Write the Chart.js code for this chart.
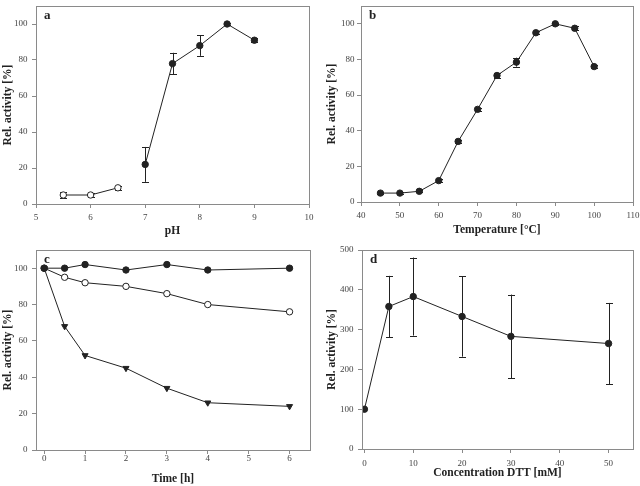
<!DOCTYPE html>
<html>
<head>
<meta charset="utf-8">
<script src="https://cdn.jsdelivr.net/npm/chart.js@4"></script>
<style>
  body { margin: 0; background: #fff; }
  #wrap { position: relative; width: 640px; height: 486px; }
  canvas { position: absolute; }
</style>
</head>
<body>
<div id="wrap">
  <canvas id="pa" width="320" height="243" style="left:0;top:0"></canvas>
  <canvas id="pb" width="320" height="243" style="left:320px;top:0"></canvas>
  <canvas id="pc" width="320" height="243" style="left:0;top:243px"></canvas>
  <canvas id="pd" width="320" height="243" style="left:320px;top:243px"></canvas>
</div>
<script>
'use strict';

// panel a - pH
const phOpenX = [5.5, 6, 6.5];
const phOpenY = [5, 5, 9];
const phOpenErr = [1.5, 1, 1];
const phX = [7, 7.5, 8, 8.5, 9];
const phY = [22, 78, 88, 100, 91];
const phErr = [9.7, 6, 5.7, 0.4, 1];

// panel b - temperature
const tempX = [45, 50, 55, 60, 65, 70, 75, 80, 85, 90, 95, 100];
const tempY = [5, 5, 6, 12, 34, 52, 71, 78.5, 95, 100, 97.5, 76];
const tempErr = [0.5, 0.5, 0.5, 0.8, 1, 0.8, 1.5, 2.5, 0.8, 0.5, 1, 0.8];

// panel c - time
const timeX = [0, 0.5, 1, 2, 3, 4, 6];
const timeFilled = [100, 100, 102, 99, 102, 99, 100];
const timeOpen = [100, 95, 92, 90, 86, 80, 76];
const timeTri = [100, 68, 52, 45, 34, 26, 24];

// panel d - DTT
const dttX = [0, 5, 10, 20, 30, 50];
const dttY = [100, 358, 383, 333, 283, 265];
const dttErr = [0, 77, 98, 101, 105, 102];

// tick labels
const phTicks = [5, 6, 7, 8, 9, 10];
const tempTicks = [40, 50, 60, 70, 80, 90, 100, 110];
const timeTicks = [0, 1, 2, 3, 4, 5, 6];
const dttTicks = [0, 10, 20, 30, 40, 50];
const pctTicks = [0, 20, 40, 60, 80, 100];
const dttPctTicks = [0, 100, 200, 300, 400, 500];

const FONT = "'Liberation Serif', 'DejaVu Serif', serif";
const AXIS = '#8a8a8a';
const INK = '#222';

function pts(xs, ys) {
    return xs.map((x, i) => ({ x: x, y: ys[i] }));
}

const frameAndErrors = {
    id: 'frameAndErrors',
    beforeDatasetsDraw(chart) {
        const ctx = chart.ctx;
        const xs = chart.scales.x, ys = chart.scales.y;
        ctx.save();
        ctx.strokeStyle = INK;
        ctx.lineWidth = 1;
        chart.data.datasets.forEach(ds => {
            if (!ds.errors) return;
            ds.data.forEach((p, i) => {
                const e = ds.errors[i];
                if (!e) return;
                const px = Math.round(xs.getPixelForValue(p.x)) + 0.5;
                const top = ys.getPixelForValue(p.y + e);
                const bot = ys.getPixelForValue(p.y - e);
                ctx.beginPath();
                ctx.moveTo(px, top); ctx.lineTo(px, bot);
                ctx.moveTo(px - 3.5, Math.round(top) + 0.5); ctx.lineTo(px + 3.5, Math.round(top) + 0.5);
                ctx.moveTo(px - 3.5, Math.round(bot) + 0.5); ctx.lineTo(px + 3.5, Math.round(bot) + 0.5);
                ctx.stroke();
            });
        });
        ctx.restore();
    },
    afterDraw(chart, args, opts) {
        const ctx = chart.ctx;
        const a = chart.chartArea;
        ctx.save();
        ctx.strokeStyle = AXIS;
        ctx.lineWidth = 1;
        ctx.strokeRect(Math.round(a.left) + 0.5, Math.round(a.top) + 0.5,
            Math.round(a.right - a.left), Math.round(a.bottom - a.top));
        ctx.fillStyle = INK;
        ctx.font = 'bold 13px ' + FONT;
        ctx.textBaseline = 'middle';
        ctx.fillText(opts.letter, a.left + opts.lx, a.top + opts.ly);
        ctx.restore();
    }
};

function makePanel(id, p) {
    new Chart(document.getElementById(id), {
        type: 'scatter',
        data: { datasets: p.datasets },
        plugins: [frameAndErrors],
        options: {
            responsive: false,
            animation: false,
            layout: { padding: { top: p.top, right: p.right, left: 0, bottom: 0 } },
            plugins: {
                legend: { display: false },
                tooltip: { enabled: false },
                frameAndErrors: { letter: p.letter, lx: 8, ly: 10 }
            },
            scales: {
                x: {
                    type: 'linear',
                    min: p.xMin, max: p.xMax,
                    afterBuildTicks: s => { s.ticks = p.xTicks.map(v => ({ value: v })); },
                    afterFit: s => { s.height = p.bottom; s.paddingLeft = 0; s.paddingRight = 0; },
                    border: { display: false },
                    grid: { drawOnChartArea: false, tickLength: 4, color: AXIS },
                    ticks: { color: '#444', font: { family: FONT, size: 9 }, padding: p.xPad, maxRotation: 0 },
                    title: { display: true, text: p.xTitle, color: INK, font: { family: FONT, size: 11.5, weight: 'bold' }, padding: { top: 0, bottom: p.xTitlePad } }
                },
                y: {
                    type: 'linear',
                    min: p.yMin, max: p.yMax,
                    afterBuildTicks: s => { s.ticks = p.yTicks.map(v => ({ value: v })); },
                    afterFit: s => { s.width = p.left; s.paddingTop = 0; s.paddingBottom = 0; },
                    border: { display: false },
                    grid: { drawOnChartArea: false, tickLength: 4, color: AXIS },
                    ticks: { color: '#444', font: { family: FONT, size: 9 }, padding: p.yPad },
                    title: { display: true, text: 'Rel. activity [%]', color: INK, font: { family: FONT, size: 11.5, weight: 'bold' }, padding: { top: p.yTitlePad, bottom: 0 } }
                }
            }
        }
    });
}

function series(xs, ys, opts) {
    return Object.assign({
        data: pts(xs, ys),
        showLine: true,
        borderColor: INK,
        borderWidth: 1,
        pointRadius: 3.2,
        pointBorderWidth: 1,
        pointBackgroundColor: INK,
        pointBorderColor: INK
    }, opts || {});
}

makePanel('pa', {
    letter: 'a', top: 6, right: 11, left: 36, bottom: 39,
    xPad: 4, yPad: 4.5, xTitlePad: 5.5, yTitlePad: 1,
    xMin: 5, xMax: 10, xTicks: phTicks, yMin: 0, yMax: 110, yTicks: pctTicks,
    xTitle: 'pH',
    datasets: [
        series(phOpenX, phOpenY, { errors: phOpenErr, pointBackgroundColor: '#fff' }),
        series(phX, phY, { errors: phErr })
    ]
});

makePanel('pb', {
    letter: 'b', top: 6, right: 7, left: 41, bottom: 41,
    xPad: 4, yPad: 2.5, xTitlePad: 6.4, yTitlePad: 4.7,
    xMin: 40, xMax: 110, xTicks: tempTicks, yMin: 0, yMax: 110, yTicks: pctTicks,
    xTitle: 'Temperature [°C]',
    datasets: [
        series(tempX, tempY, { errors: tempErr })
    ]
});

makePanel('pc', {
    letter: 'c', top: 7, right: 10, left: 36, bottom: 36,
    xPad: -1, yPad: 4.5, xTitlePad: 0, yTitlePad: 1.4,
    xMin: -0.2, xMax: 6.5, xTicks: timeTicks, yMin: 0, yMax: 110, yTicks: pctTicks,
    xTitle: 'Time [h]',
    datasets: [
        series(timeX, timeFilled),
        series(timeX, timeOpen, { pointBackgroundColor: '#fff' }),
        series(timeX, timeTri, { pointStyle: 'triangle', rotation: 180, pointRadius: 3.5 })
    ]
});

makePanel('pd', {
    letter: 'd', top: 7, right: 7, left: 42, bottom: 37,
    xPad: 4.8, yPad: 4.5, xTitlePad: 6.4, yTitlePad: 5,
    xMin: -0.5, xMax: 55, xTicks: dttTicks, yMin: 0, yMax: 500, yTicks: dttPctTicks,
    xTitle: 'Concentration DTT [mM]',
    datasets: [
        series(dttX, dttY, { errors: dttErr })
    ]
});
</script>
</body>
</html>
